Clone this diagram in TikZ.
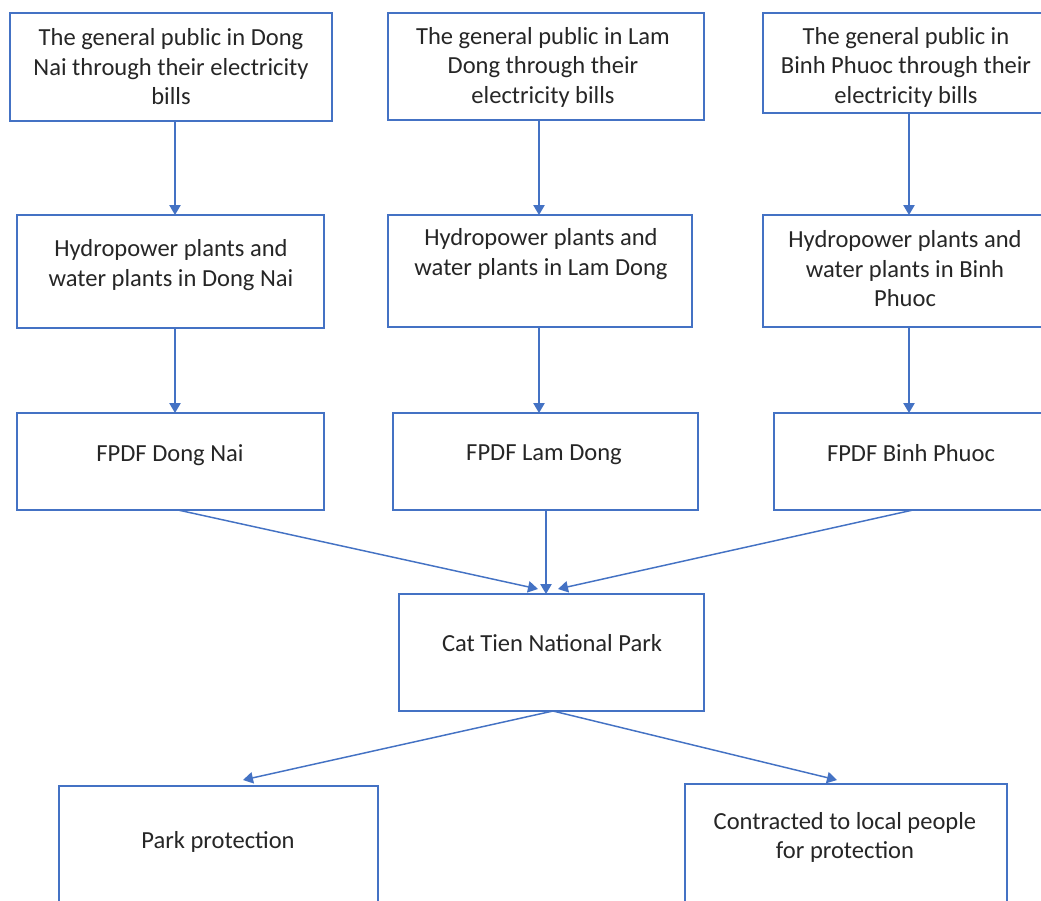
\documentclass[tikz,border=0pt]{standalone}
\usepackage{fontspec}
\setmainfont{Carlito}
\usetikzlibrary{arrows.meta,fit}
\definecolor{boxc}{HTML}{4472C4}
\definecolor{txtc}{HTML}{262626}
\tikzset{
  boxnode/.style={draw=boxc, line width=1pt, inner sep=0pt, outer sep=0pt, rectangle},
  txt/.style={text=txtc, align=center, inner sep=0pt, font=\fontsize{18.4}{22.1}\selectfont},
  onel/.style={txt, text depth=0pt},
  arr/.style={draw=boxc, line width=1.1pt, -{Triangle[length=7.5pt,width=8.5pt]}}
}
\begin{document}
\begin{tikzpicture}[x=0.75pt,y=-0.75pt]
\useasboundingbox (0,0) rectangle (1041,900);
\clip (0,0) rectangle (1041,900);
\fill[white] (0,0) rectangle (1041,900);
% boxes
\node[boxnode, fit={(10,13) (332,121)}] (b1) {};
\node[boxnode, fit={(388,13) (704,120)}] (b2) {};
\node[boxnode, fit={(763,13) (1046,113)}] (b3) {};
\node[boxnode, fit={(17,215) (324,328)}] (h1) {};
\node[boxnode, fit={(388,215) (692,327)}] (h2) {};
\node[boxnode, fit={(763,215) (1046,327)}] (h3) {};
\node[boxnode, fit={(17,413) (324,510)}] (f1) {};
\node[boxnode, fit={(393,413) (698,510)}] (f2) {};
\node[boxnode, fit={(774,413) (1046,510)}] (f3) {};
\node[boxnode, fit={(399,594) (704,711)}] (cat) {};
\node[boxnode, fit={(59,786) (378,910)}] (pp) {};
\node[boxnode, fit={(685,784) (1007,910)}] (lp) {};
% texts
\node[txt] (b1t) at (171,67) {The general public in Dong\\Nai through their electricity\\bills};
\node[txt] (b2t) at (543,67) {The general public in Lam\\Dong through their\\electricity bills};
\node[txt] (b3t) at (906,67) {The general public in\\Binh Phuoc through their\\electricity bills};
\node[txt] (h1t) at (171,265) {Hydropower plants and\\water plants in Dong Nai};
\node[txt] (h2t) at (541,254) {Hydropower plants and\\water plants in Lam Dong};
\node[txt] (h3t) at (905,269) {Hydropower plants and\\water plants in Binh\\Phuoc};
\node[onel] (f1t) at (170,453) {FPDF Dong Nai};
\node[onel] (f2t) at (544,453) {FPDF Lam Dong};
\node[onel] (f3t) at (911,453) {FPDF Binh Phuoc};
\node[onel] (catt) at (552,643) {Cat Tien National Park};
\node[onel] (ppt) at (218,840) {Park protection};
\node[txt] (lpt) at (845,837.5) {Contracted to local people\\for protection};
% arrow columns
\coordinate (c1) at (175,0);
\coordinate (c2) at (539,0);
\coordinate (c3) at (909,0);
\coordinate (c4) at (546,0);
\coordinate (f1s) at (178,510);
\coordinate (f3s) at (913,510);
\coordinate (catL) at (538,589);
\coordinate (catR) at (558,589);
\coordinate (catS) at (553,711);
\coordinate (ppN) at (243,780);
\coordinate (lpN) at (837,780);
% connectors
\draw[arr] (b1.south -| c1) -- (h1.north -| c1);
\draw[arr] (h1.south -| c1) -- (f1.north -| c1);
\draw[arr] (b2.south -| c2) -- (h2.north -| c2);
\draw[arr] (h2.south -| c2) -- (f2.north -| c2);
\draw[arr] (b3.south -| c3) -- (h3.north -| c3);
\draw[arr] (h3.south -| c3) -- (f3.north -| c3);
\draw[arr] (f2.south -| c4) -- (cat.north -| c4);
\draw[arr] (f1s) -- (catL);
\draw[arr] (f3s) -- (catR);
\draw[arr] (catS) -- (ppN);
\draw[arr] (catS) -- (lpN);
\end{tikzpicture}
\end{document}
